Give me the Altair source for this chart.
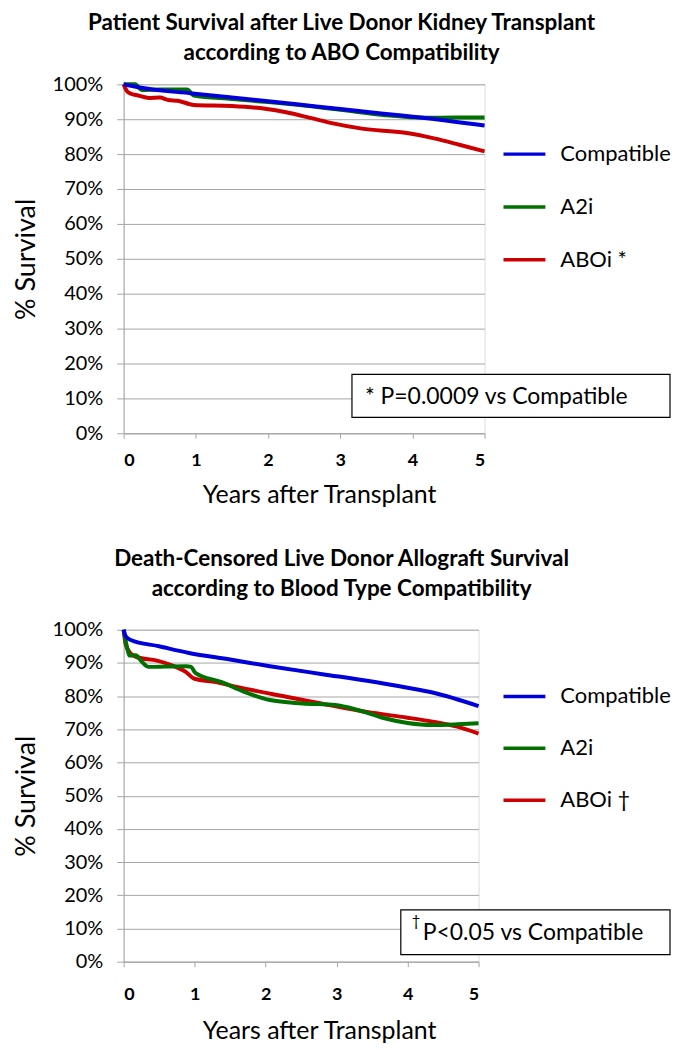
import altair as alt
import pandas as pd

FONT = "Lato"
SERIES_TOP = ["Compatible", "A2i", "ABOi *"]
SERIES_BOT = ["Compatible", "A2i", "ABOi †"]
COLORS = ["#0000d8", "#007000", "#cc0000"]

Y_TICKS = [0, 10, 20, 30, 40, 50, 60, 70, 80, 90, 100]
X_TICKS = [0, 1, 2, 3, 4, 5]

# ---- Top panel: patient survival ----
top_comp_x = [0, 0.1, 0.22, 0.95, 1.8, 2.7, 3.6, 4.2, 5.0]
top_comp_y = [100, 99.6, 99.1, 97.4, 95.6, 93.6, 91.6, 90.3, 88.2]
top_a2i_x = [0, 0.16, 0.25, 0.5, 0.88, 0.97, 1.5, 2.0, 2.5, 3.0, 3.6, 4.2, 4.6, 5.0]
top_a2i_y = [100, 100, 98.4, 98.5, 98.5, 96.8, 95.8, 94.9, 93.9, 92.7, 91.2, 90.4, 90.5, 90.5]
top_abo_x = [0, 0.04, 0.1, 0.2, 0.35, 0.5, 0.62, 0.75, 0.97, 1.5, 1.96, 2.25, 2.6, 2.9, 3.3, 3.9, 4.3, 4.65, 5.0]
top_abo_y = [100, 98.2, 97.3, 96.8, 96.1, 96.2, 95.5, 95.3, 94.1, 93.8, 93.0, 92.0, 90.3, 88.8, 87.3, 86.1, 84.5, 82.7, 80.8]

# ---- Bottom panel: death-censored graft survival ----
bot_comp_x = [0, 0.03, 0.1, 0.5, 0.92, 1.5, 2.06, 2.8, 3.43, 4.0, 4.35, 5.0]
bot_comp_y = [100, 98.0, 96.9, 95.0, 93.0, 91.0, 89.0, 86.6, 84.6, 82.5, 81.1, 77.0]
bot_a2i_x = [0, 0.02, 0.05, 0.08, 0.17, 0.25, 0.35, 0.6, 0.88, 0.95, 1.01, 1.38, 1.7, 2.06, 2.52, 2.98, 3.3, 3.66, 4.0, 4.35, 4.7, 5.0]
bot_a2i_y = [100, 97.5, 94.5, 92.2, 92.3, 90.5, 88.8, 88.9, 89.0, 88.8, 87.0, 84.2, 81.3, 78.8, 77.8, 77.3, 75.8, 73.4, 71.9, 71.3, 71.5, 71.8]
bot_abo_x = [0, 0.03, 0.1, 0.19, 0.47, 0.65, 0.88, 0.99, 1.3, 1.61, 2.29, 2.8, 3.43, 4.0, 4.35, 4.7, 5.0]
bot_abo_y = [100, 95.5, 92.8, 91.7, 90.7, 89.5, 87.2, 85.3, 84.2, 82.7, 79.8, 77.7, 75.2, 73.5, 72.3, 70.8, 68.7]

TOP_TITLE = ["Patient Survival after Live Donor Kidney Transplant",
             "according to ABO Compatibility"]
BOT_TITLE = ["Death-Censored Live Donor Allograft Survival",
             "according to Blood Type Compatibility"]
TOP_NOTE = "* P=0.0009 vs Compatible"
BOT_NOTE = "P<0.05 vs Compatible"
BOT_NOTE_MARK = "†"


def long_df(names, xs, ys):
    rows = []
    for n, xv, yv in zip(names, xs, ys):
        for a, b in zip(xv, yv):
            rows.append({"year": a, "surv": b, "group": n})
    return pd.DataFrame(rows)


def panel(names, xs, ys, title, note_parts, width, height, box, offset,
          xlabpad, xtitpad, legy, rowpad):
    df = long_df(names, xs, ys)
    grey = "#a6a6a6"
    base = alt.Chart(df).mark_line(strokeWidth=4, interpolate="monotone").encode(
        x=alt.X("year:Q", scale=alt.Scale(domain=[0, 5], nice=False),
                axis=alt.Axis(values=X_TICKS, grid=False, title="Years after Transplant",
                              labelFontWeight="bold", labelFontSize=18, labelPadding=xlabpad,
                              tickSize=5, tickColor=grey, domainColor=grey,
                              titleFontSize=25, titleFontWeight="normal", titlePadding=xtitpad,
                              titleX=196, labelFont=FONT, titleFont=FONT,
                              titleColor="black", labelColor="black")),
        y=alt.Y("surv:Q", scale=alt.Scale(domain=[0, 100], nice=False),
                axis=alt.Axis(values=Y_TICKS, labelExpr="datum.value + '%'", grid=True,
                              gridColor=grey, tickColor=grey, domainColor=grey, tickSize=7,
                              labelFontSize=20, labelPadding=14, title="% Survival",
                              titleFontSize=27, titleFontWeight="normal", titlePadding=12,
                              labelFont=FONT, titleFont=FONT, titleColor="black", labelColor="black")),
        color=alt.Color("group:N", scale=alt.Scale(domain=names, range=COLORS),
                        legend=alt.Legend(orient="none", legendX=379, legendY=legy,
                                          title=None, symbolType="stroke", symbolSize=1764,
                                          symbolStrokeWidth=3.5, labelFontSize=22, labelFont=FONT,
                                          labelColor="black", labelOffset=13, rowPadding=rowpad)),
    )
    # draw order: red, then green, then blue on top
    lines = [base.transform_filter(alt.datum.group == n) for n in [names[2], names[1], names[0]]]
    anno = pd.DataFrame({"k": [0]})
    bx0, bx1, by0, by1 = box
    rect = alt.Chart(anno).mark_rect(fill="white", stroke="black", strokeWidth=1.2).encode(
        x=alt.value(bx0), x2=alt.value(bx1), y=alt.value(by0), y2=alt.value(by1))
    layers = lines + [rect]
    for txt, tx, ty, fs in note_parts:
        layers.append(alt.Chart(anno).mark_text(text=txt, align="left", baseline="middle",
                                                fontSize=fs, font=FONT, color="black").encode(
            x=alt.value(tx), y=alt.value(ty)))
    return alt.layer(*layers).properties(
        width=width, height=height,
        title=alt.TitleParams(text=title, fontSize=22.5, fontWeight="bold", font=FONT,
                              anchor="middle", frame="bounds", offset=offset, lineHeight=30,
                              color="black"))


top = panel(SERIES_TOP, [top_comp_x, top_a2i_x, top_abo_x], [top_comp_y, top_a2i_y, top_abo_y],
            TOP_TITLE, [(TOP_NOTE, 242, 314, 23)], 362, 350, (229, 548, 291, 334), 10,
            13, 13, 47, 19)
bot = panel(SERIES_BOT, [bot_comp_x, bot_a2i_x, bot_abo_x], [bot_comp_y, bot_a2i_y, bot_abo_y],
            BOT_TITLE, [(BOT_NOTE_MARK, 289, 292, 15), (BOT_NOTE, 300, 304, 23)], 356, 333,
            (278, 548, 281, 326), 19, 19, 15, 44, 18)

chart = alt.vconcat(top, bot, spacing=40).resolve_scale(color="independent").properties(
    padding={"left": 3, "top": 2, "right": 0, "bottom": 0}
).configure_view(stroke=None).configure(font=FONT)

chart.save("out.html", embed_options={"renderer": "svg", "actions": False})
